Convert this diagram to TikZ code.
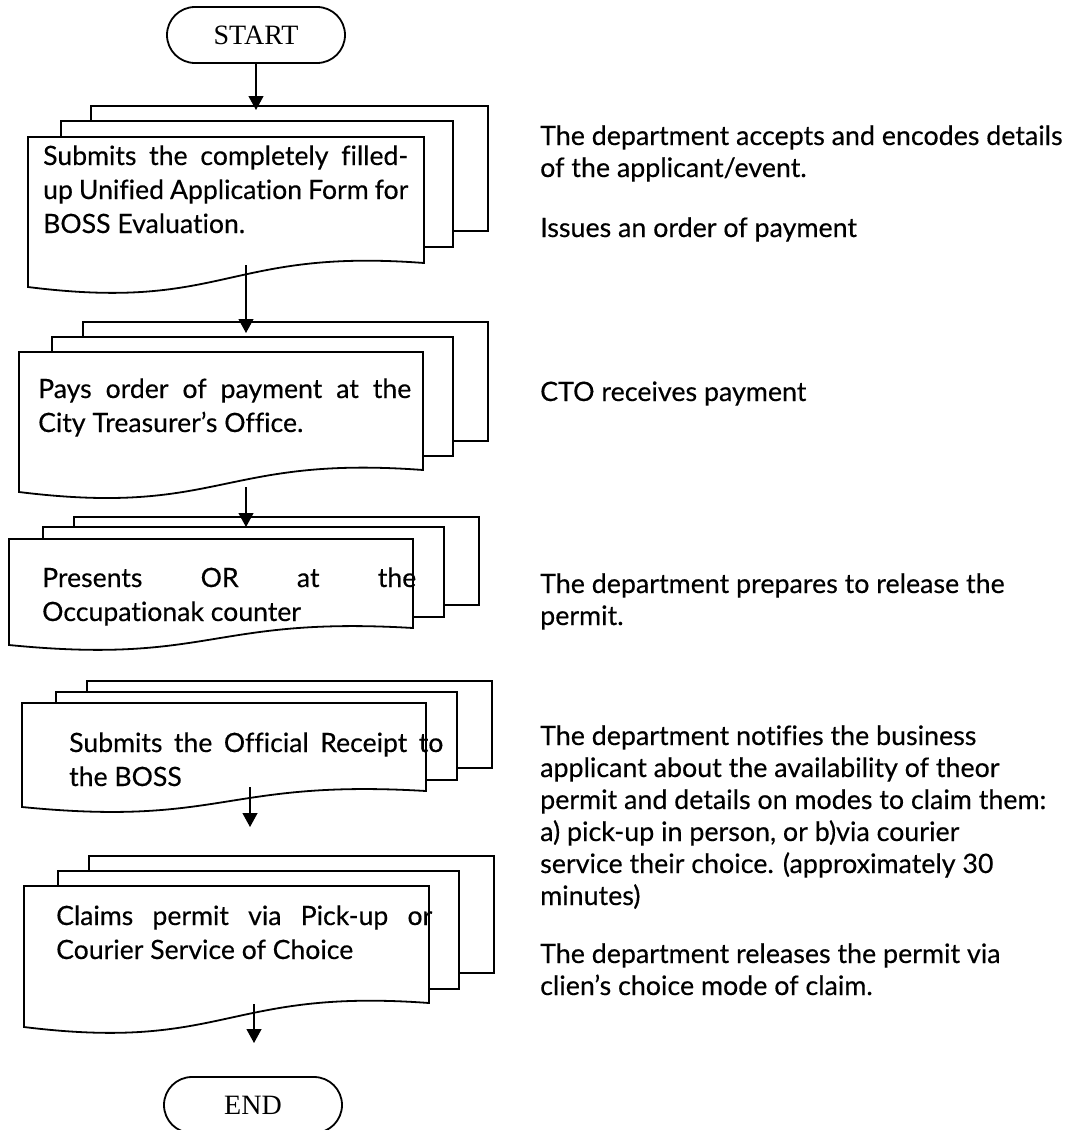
\documentclass[tikz,border=0pt]{standalone}
\usepackage{fontspec}
\setmainfont{Lato}[FakeBold=0.35,Ligatures=CommonOff]
\newfontfamily\termfont{Liberation Serif}
\usetikzlibrary{arrows.meta}
\tikzset{
  boxline/.style={line width=1.8pt, fill=white, line join=miter},
  flowarrow/.style={line width=1.2pt, -{Triangle[width=15pt,length=14pt]}},
  term/.style={draw, line width=1.8pt, rounded corners=28pt, minimum width=178pt,
    minimum height=56pt, inner sep=0pt, font=\termfont\fontsize{28}{30}\selectfont},
  boxtext/.style={anchor=base west, inner sep=0pt, align=left,
    font=\fontsize{26.6}{34}\selectfont},
  sidetext/.style={anchor=base west, inner sep=0pt, align=left,
    font=\fontsize{26.8}{32}\selectfont},
}
\begin{document}
\begin{tikzpicture}[x=1pt,y=-1pt]
\useasboundingbox (0,0) rectangle (1075,1130);

% START
\node[term] (start) at (256,35) {START};

% stack 1
\draw[boxline] (91,106) rectangle (488,231);
\draw[boxline] (61,121) rectangle (453,247);
\draw[boxline] (28,137) -- (424,137) -- (424,263) .. controls (226,248) and (226,312) .. (28,287) -- cycle;
% (anchor = baseline of last line)
\node[boxtext] (t1) at (43,233) {\makebox[365pt][s]{Submits the completely filled-}\\
  \makebox[365pt][s]{up Unified Application Form for}\\BOSS Evaluation.};

% stack 2
\draw[boxline] (83,322) rectangle (488,441);
\draw[boxline] (52,337) rectangle (453,456);
\draw[boxline] (19,352) -- (423,352) -- (423,470) .. controls (221,455) and (221,517) .. (19,492) -- cycle;
\node[boxtext] (t2) at (38,432) {\makebox[373pt][s]{Pays order of payment at the}\\
  City Treasurer’s Office.};

% stack 3
\draw[boxline] (74,517) rectangle (479,605);
\draw[boxline] (43,527) rectangle (444,617);
\draw[boxline] (9,539) -- (413,539) -- (413,628) .. controls (211,616) and (211,665) .. (9,645) -- cycle;
\node[boxtext] (t3) at (42,621) {\makebox[374pt][s]{Presents OR at the}\\
  Occupationak counter};

% stack 4
\draw[boxline] (87,681) rectangle (492,768);
\draw[boxline] (56,692) rectangle (457,780);
\draw[boxline] (22,703) -- (426,703) -- (426,791) .. controls (224,779) and (224,827) .. (22,807) -- cycle;
\node[boxtext] (t4) at (69,786) {\makebox[374pt][s]{Submits the Official Receipt to}\\
  the BOSS};

% stack 5
\draw[boxline] (89,856) rectangle (494,973);
\draw[boxline] (58,871) rectangle (459,989);
\draw[boxline] (24,886) -- (429,886) -- (429,1003) .. controls (226,988) and (226,1052) .. (24,1027) -- cycle;
\node[boxtext] (t5) at (56,959) {\makebox[376pt][s]{Claims permit via Pick-up or}\\
  Courier Service of Choice};

% END
\node[term] (end) at (253,1105) {END};

% connectors
\coordinate (a1) at (256,110);
\coordinate (s1) at (246,265);
\coordinate (a2) at (246,333);
\coordinate (s2) at (246,487);
\coordinate (a3) at (246,527);
\coordinate (s4) at (250,787);
\coordinate (a4) at (250,827);
\coordinate (s5) at (254,1004);
\coordinate (a5) at (254,1043);
\draw[flowarrow] (start.south) -- (a1);
\draw[flowarrow] (s1) -- (a2);
\draw[flowarrow] (s2) -- (a3);
\draw[flowarrow] (s4) -- (a4);
\draw[flowarrow] (s5) -- (a5);

% side notes (anchor = baseline of last line)
\node[sidetext] (n1) at (540,177) {The department accepts and encodes details\\of the applicant/event.};
\node[sidetext] (n2) at (540,237) {Issues an order of payment};
\node[sidetext] (n3) at (540,401) {CTO receives payment};
\node[sidetext] (n4) at (540,625) {The department prepares to release the\\permit.};
\node[sidetext] (n5) at (540,905) {The department notifies the business\\
  applicant about the availability of theor\\
  permit and details on modes to claim them:\\
  a) pick-up in person, or b)via courier\\
  service their choice. (approximately 30\\
  minutes)};
\node[sidetext] (n6) at (540,995) {The department releases the permit via\\clien’s choice mode of claim.};
\end{tikzpicture}
\end{document}
